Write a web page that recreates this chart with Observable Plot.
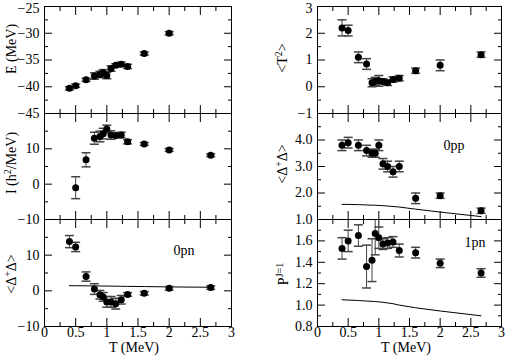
<!DOCTYPE html>
<html><head><meta charset="utf-8">
<script src="https://cdn.jsdelivr.net/npm/d3@7"></script>
<script src="https://cdn.jsdelivr.net/npm/@observablehq/plot@0.6"></script>
<style>
html,body{margin:0;padding:0;background:#fff;}
#chart{position:relative;width:507px;height:358px;overflow:hidden;background:#fff;}
#chart svg{position:absolute;left:0;top:0;}
</style></head><body><div id="chart"></div>
<script>
// Temperatures (MeV)
const T = [0.4, 0.5, 0.667, 0.8, 0.889, 0.941, 1.0, 1.067, 1.143, 1.231, 1.333, 1.6, 2.0, 2.667];

// E (MeV)
const energy    = [-40.3, -39.8, -38.7, -38.0, -37.7, -37.4, -37.9, -36.6, -36.0, -35.8, -36.2, -33.8, -30.0, null];
const energyErr = [0.3, 0.3, 0.3, 0.6, 0.6, 0.6, 0.6, 0.5, 0.3, 0.4, 0.4, 0.3, 0.3, null];

// I (h^2/MeV)
const inertia    = [null, -1.0, 6.9, 13.0, 13.5, 14.3, 15.6, 13.9, 13.8, 13.9, 12.0, 11.4, 9.7, 8.2];
const inertiaErr = [null, 3.1, 2.0, 1.7, 1.5, 1.5, 1.1, 1.2, 0.6, 0.8, 0.6, 0.4, 0.4, 0.4];

// <Delta+ Delta> 0pn
const pn0     = [13.8, 12.3, 4.0, 0.5, -1.1, -1.7, -3.1, -3.1, -3.6, -2.5, -1.0, -0.7, 0.7, 0.9];
const pn0Err  = [1.7, 1.3, 1.3, 1.5, 1.2, 1.2, 1.5, 1.5, 1.5, 1.2, 0.5, 0.5, 0.5, 0.5];
const pn0Line = [1.45, 1.43, 1.4, 1.38, 1.36, 1.35, 1.34, 1.32, 1.3, 1.28, 1.25, 1.2, 1.1, 1.0];

// <T^2>
const tsq    = [2.2, 2.1, 1.1, 0.85, 0.15, 0.2, 0.22, 0.2, 0.15, 0.27, 0.32, 0.6, 0.8, 1.2];
const tsqErr = [0.3, 0.2, 0.2, 0.2, 0.15, 0.15, 0.2, 0.1, 0.1, 0.1, 0.1, 0.1, 0.2, 0.1];

// <Delta+ Delta> 0pp
const pp0     = [3.8, 3.9, 3.8, 3.6, 3.5, 3.5, 3.8, 3.1, 3.0, 2.8, 3.0, 1.8, 1.9, 1.33];
const pp0Err  = [0.2, 0.2, 0.2, 0.2, 0.15, 0.15, 0.2, 0.2, 0.2, 0.2, 0.2, 0.2, 0.1, 0.1];
const pp0Line = [1.57, 1.57, 1.56, 1.55, 1.54, 1.54, 1.53, 1.52, 1.51, 1.49, 1.47, 1.39, 1.28, 1.11];

// P^{J=1} 1pn
const pn1     = [1.53, 1.60, 1.65, 1.36, 1.42, 1.67, 1.63, 1.57, 1.58, 1.59, 1.51, 1.49, 1.39, 1.30];
const pn1Err  = [0.1, 0.1, 0.1, 0.2, 0.2, 0.2, 0.1, 0.05, 0.05, 0.05, 0.06, 0.05, 0.04, 0.04];
const pn1Line = [1.05, 1.047, 1.043, 1.038, 1.035, 1.033, 1.03, 1.026, 1.02, 1.013, 1.0, 0.975, 0.945, 0.9];

// Tick values
const xMajor = [0, 0.5, 1, 1.5, 2, 2.5, 3];
const xMinor = [0.25, 0.75, 1.25, 1.75, 2.25, 2.75];
const eMajor = [-45, -40, -35, -30, -25];
const eMinor = [-42.5, -37.5, -32.5, -27.5];
const iMajor = [-10, 0, 10, 20];
const iMinor = [-5, 5, 15];
const iLabels = [-10, 0, 10];
const tsqMajor = [-1, 0, 1, 2, 3];
const tsqMinor = [-0.5, 0.5, 1.5, 2.5];
const ppMajor = [1, 2, 3, 4, 5];
const ppMinor = [1.5, 2.5, 3.5, 4.5];
const ppLabels = [1, 2, 3, 4];
const p1Major = [0.8, 1.0, 1.2, 1.4, 1.6, 1.8];
const p1Minor = [0.9, 1.1, 1.3, 1.5, 1.7];
const p1Labels = [0.8, 1.0, 1.2, 1.4, 1.6];

const W = 507, H = 358;
const cols = [[44, 231], [317, 501]];
const rows = [[6, 113], [113, 219], [219, 326]];
const FONT = "'Liberation Serif', 'Times New Roman', serif";
const ERR = "#444";

const fmtInt = d => (d < 0 ? "\u2212" + Math.abs(d) : String(d));
const fmt1 = d => (d < 0 ? "\u2212" : "") + Math.abs(d).toFixed(1);

const capSymbol = {
  draw(ctx, size) {
    const r = Math.sqrt(size / Math.PI);
    ctx.moveTo(-r, 0); ctx.lineTo(r, 0);
  }
};

function table(vals, errs, line) {
  return T.map((t, i) => ({T: t, v: vals[i], e: errs ? errs[i] : null, l: line ? line[i] : null}))
          .filter(d => d.v != null);
}

function panel({col, row, yDomain, yMajor, yMinor, yLabels, yFormat, showX, data, line, note, clip}) {
  const [l, r] = cols[col], [t, b] = rows[row];
  const marks = [];
  for (const anchor of ["bottom", "top"]) {
    marks.push(Plot.axisX(xMajor, {anchor, tickSize: -8, tickFormat: () => "", label: null}));
    marks.push(Plot.axisX(xMinor, {anchor, tickSize: -4, tickFormat: () => "", label: null}));
  }
  for (const anchor of ["left", "right"]) {
    marks.push(Plot.axisY(yMajor, {anchor, tickSize: -8, tickFormat: () => "", label: null}));
    marks.push(Plot.axisY(yMinor, {anchor, tickSize: -4, tickFormat: () => "", label: null}));
  }
  const top = yDomain[1];
  const inner = yLabels.filter(d => d !== top);
  marks.push(Plot.axisY(inner, {anchor: "left", tickSize: 0, tickPadding: 5, tickFormat: yFormat, label: null}));
  if (yLabels.includes(top)) // topmost label nudged down slightly so it stays inside the page
    marks.push(Plot.axisY([top], {anchor: "left", tickSize: 0, tickPadding: 5, tickFormat: yFormat, label: null, dy: 2}));
  if (showX) marks.push(Plot.axisX(xMajor, {anchor: "bottom", tickSize: 0, tickPadding: 1, tickFormat: d => String(d), label: null}));
  if (line) marks.push(Plot.line(data, {x: "T", y: "l", stroke: "black", strokeWidth: 1, clip: true}));
  marks.push(Plot.ruleX(data, {x: "T", y1: d => d.v - d.e, y2: d => d.v + d.e, stroke: ERR, strokeWidth: 1, clip}));
  marks.push(Plot.dot(data, {x: "T", y: d => d.v - d.e, symbol: capSymbol, r: 4.5, stroke: ERR, fill: "none", clip}));
  marks.push(Plot.dot(data, {x: "T", y: d => d.v + d.e, symbol: capSymbol, r: 4.5, stroke: ERR, fill: "none", clip}));
  marks.push(Plot.dot(data, {x: "T", y: "v", r: 3.5, fill: "black", stroke: "none"}));
  if (note) marks.push(Plot.text([note.text], {frameAnchor: "top-left", dx: note.dx, dy: note.dy, text: d => d, fontSize: 14}));
  marks.push(Plot.frame({stroke: "black", strokeWidth: 1}));
  const svg = Plot.plot({
    width: W, height: H,
    marginLeft: l, marginRight: W - r, marginTop: t, marginBottom: H - b,
    x: {domain: [0, 3]},
    y: {domain: yDomain},
    style: {background: "none", fontFamily: FONT, fontSize: "14px", color: "black", overflow: "visible"},
    marks
  });
  document.getElementById("chart").appendChild(svg);
}

panel({col: 0, row: 0, yDomain: [-45, -25], yMajor: eMajor, yMinor: eMinor, yLabels: eMajor, yFormat: fmtInt,
       data: table(energy, energyErr)});
panel({col: 0, row: 1, yDomain: [-10, 20], yMajor: iMajor, yMinor: iMinor, yLabels: iLabels, yFormat: fmtInt,
       data: table(inertia, inertiaErr)});
panel({col: 0, row: 2, yDomain: [-10, 20], yMajor: iMajor, yMinor: iMinor, yLabels: iLabels, yFormat: fmtInt,
       showX: true, data: table(pn0, pn0Err, pn0Line), line: true, note: {text: "0pn", dx: 129, dy: 26}});
panel({col: 1, row: 0, yDomain: [-1, 3], yMajor: tsqMajor, yMinor: tsqMinor, yLabels: tsqMajor, yFormat: fmtInt,
       data: table(tsq, tsqErr)});
panel({col: 1, row: 1, yDomain: [1, 5], yMajor: ppMajor, yMinor: ppMinor, yLabels: ppLabels, yFormat: fmt1,
       data: table(pp0, pp0Err, pp0Line), line: true, note: {text: "0pp", dx: 126, dy: 27}});
panel({col: 1, row: 2, yDomain: [0.8, 1.8], yMajor: p1Major, yMinor: p1Minor, yLabels: p1Labels, yFormat: fmt1,
       showX: true, data: table(pn1, pn1Err, pn1Line), line: true, note: {text: "1pn", dx: 147, dy: 18}, clip: true});

// Axis titles (real text with superscripts)
const overlay = d3.select("#chart").append("svg").attr("width", W).attr("height", H)
  .style("font-family", FONT).style("font-size", "14px");
function label(x, y, parts, rotate) {
  const txt = overlay.append("text").attr("text-anchor", "middle")
    .attr("transform", `translate(${x},${y})` + (rotate ? " rotate(-90)" : ""));
  let shift = 0;
  for (const p of parts) {
    const sp = txt.append("tspan").text(p.t);
    if (p.sup) { sp.attr("dy", -5).attr("font-size", 10); shift = 5; }
    else if (shift) { sp.attr("dy", shift); shift = 0; }
  }
}
label(16, 49, [{t: "E (MeV)"}], true);
label(16, 163, [{t: "I (h"}, {t: "2", sup: true}, {t: "/MeV)"}], true);
label(16, 274, [{t: "<\u0394"}, {t: "+", sup: true}, {t: "\u0394>"}], true);
label(287, 58, [{t: "<T"}, {t: "2", sup: true}, {t: ">"}], true);
label(287, 164, [{t: "<\u0394"}, {t: "+", sup: true}, {t: "\u0394>"}], true);
label(288, 274, [{t: "P"}, {t: "J=1", sup: true}], true);
label(134, 352, [{t: "T (MeV)"}], false);
label(406, 352, [{t: "T (MeV)"}], false);
</script></body></html>
